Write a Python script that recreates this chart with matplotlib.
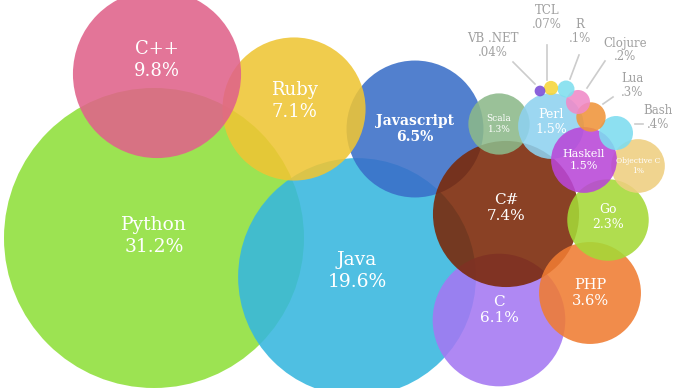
import numpy as np
import matplotlib
matplotlib.use("Agg")
import matplotlib.pyplot as plt
from matplotlib.patches import Circle

# ===============================
# Data
# ===============================
languages = ["Python", "Java", "Javascript", "Ruby", "C++", "C", "C#", "PHP",
             "Go", "Scala", "Perl", "Objective C", "Haskell", "Bash", "Lua",
             "Clojure", "R", "TCL", "VB .NET"]
share = [31.2, 19.6, 6.5, 7.1, 9.8, 6.1, 7.4, 3.6,
         2.3, 1.3, 1.5, 1.0, 1.5, 0.4, 0.3,
         0.2, 0.1, 0.07, 0.04]
share_labels = ["31.2%", "19.6%", "6.5%", "7.1%", "9.8%", "6.1%", "7.4%", "3.6%",
                "2.3%", "1.3%", "1.5%", "1%", "1.5%", ".4%", ".3%",
                ".2%", ".1%", ".07%", ".04%"]
# bubble centres (layout of the packed cluster)
bx = [154, 357, 415, 294, 157, 499, 506, 590,
      608, 499, 551, 638, 584, 616, 591, 578, 566, 551, 540]
by = [238, 277, 129, 109, 74, 320, 214, 293,
      220, 124, 126, 166, 160, 133, 117, 102, 89, 88, 91]

# ===============================
# Style
# ===============================
colors = ["#8fe03a", "#36b7df", "#3a6fc8", "#efc534", "#e0628a", "#a478f2",
          "#7a2706", "#f07c32", "#a5d937", "#8cb98a", "#8ed2f0", "#efcf80",
          "#b946d8", "#7ddcf0", "#f0943a", "#f08ac8", "#7fdfee", "#f5d53a",
          "#7a4bd6"]
font_sizes = [13.5, 13.5, 10, 13, 13, 11, 11, 10.5, 9, 6.5, 9, 5.5, 8]
weights = ["normal"] * 2 + ["bold"] + ["normal"] * 10
label_dy = [-2, -6, 0, -8, -14, -10, -6, 0, -3, 0, -4, 0, 0]
outside = {  # label position and leader line for the tiny bubbles
    "Bash": ((658, 118), (635, 124), (643, 124)),
    "Lua": ((632, 86), (613, 97), (603, 104)),
    "Clojure": ((625, 50), (605, 61), (587, 88)),
    "R": ((580, 31), (579, 55), (570, 79)),
    "TCL": ((547, 18), (547, 45), (547, 80)),
    "VB .NET": ((493, 45), (513, 62), (535, 84)),
}

scale = 150 / np.sqrt(31.2)  # radius proportional to sqrt(share)

fig = plt.figure(figsize=(6.9, 3.88), dpi=100)
ax = fig.add_axes([0, 0, 1, 1])
ax.set_xlim(0, 690)
ax.set_ylim(388, 0)
ax.set_aspect("equal")
ax.axis("off")

for i, lang in enumerate(languages):
    r = scale * np.sqrt(share[i])
    ax.add_patch(Circle((bx[i], by[i]), r, facecolor=colors[i],
                        edgecolor="none", alpha=0.88, zorder=i + 1))

for i, lang in enumerate(languages):
    if lang in outside:
        (tx, ty), p0, p1 = outside[lang]
        ax.text(tx, ty, lang + "\n" + share_labels[i], ha="center", va="center",
                fontsize=8.5, color="#a0a0a0", family="DejaVu Serif",
                linespacing=1.1, zorder=50)
        ax.plot([p0[0], p1[0]], [p0[1], p1[1]], color="#cccccc", lw=1.2,
                zorder=50)
    else:
        ax.text(bx[i], by[i] + label_dy[i], lang + "\n" + share_labels[i],
                ha="center", va="center", fontsize=font_sizes[i],
                fontweight=weights[i], color="white", family="DejaVu Serif",
                linespacing=1.25, zorder=50)

fig.savefig("out.png", dpi=100)
